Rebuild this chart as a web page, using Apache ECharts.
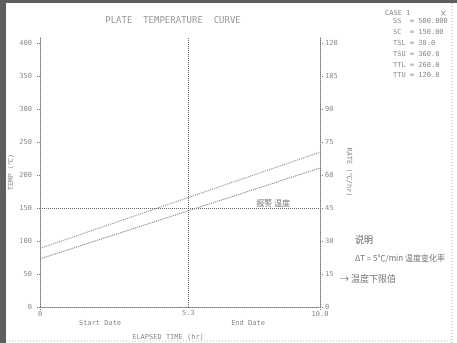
<!DOCTYPE html>
<html>
<head>
<meta charset="utf-8">
<script src="https://cdn.jsdelivr.net/npm/echarts@6/dist/echarts.min.js"></script>
<style>
  html, body { margin: 0; padding: 0; background: #fff; }
  #chart { width: 457px; height: 343px; }
</style>
</head>
<body>
<div id="chart"></div>
<script>
// values
const xValues = [0, 10]
const upperLine = [89, 235]
const lowerLine = [73, 211]
const thresholdValue = 150
const markX = 5.3
const leftTicks = { min: 0, max: 410, interval: 50 }
const rightTicks = { min: 0, max: 123, interval: 15 }
const caseLines = ['SS  = 500.000', 'SC  = 150.00', 'TSL = 38.0', 'TSU = 360.0', 'TTL = 260.0', 'TTU = 120.0']
const noteLines = ['说明', 'ΔT = 5℃/min 温度变化率', '→ 温度下限值']

const gray = '#8a8a8a'
const dotted = { type: 'dotted', color: '#777', width: 1 }

const chart = echarts.init(document.getElementById('chart'))

const graphics = [
    // scanner frame
    { type: 'rect', shape: { x: 0, y: 0, width: 6, height: 343 }, style: { fill: '#5e5e5e' } },
    { type: 'rect', shape: { x: 0, y: 0, width: 457, height: 3 }, style: { fill: '#5e5e5e' } },
    { type: 'line', shape: { x1: 452, y1: 3, x2: 452, y2: 343 }, style: { stroke: '#aaa', lineDash: [1, 2] } },
    { type: 'line', shape: { x1: 6, y1: 341, x2: 452, y2: 341 }, style: { stroke: '#bbb', lineDash: [1, 2] } },
    { type: 'text', x: 385, y: 10, style: { text: 'CASE 1', fill: gray, font: '7px "DejaVu Sans Mono"' } },
    { type: 'text', x: 440, y: 10, style: { text: '×', fill: gray, font: '8px "DejaVu Sans"' } },
    { type: 'text', x: 100, y: 323, style: { text: 'Start Date', fill: gray, font: '7px "DejaVu Sans Mono"', align: 'center', verticalAlign: 'middle' } },
    { type: 'text', x: 248, y: 323, style: { text: 'End Date', fill: gray, font: '7px "DejaVu Sans Mono"', align: 'center', verticalAlign: 'middle' } },
    { type: 'text', x: 168, y: 337, style: { text: 'ELAPSED TIME (hr)', fill: gray, font: '7px "DejaVu Sans Mono"', align: 'center', verticalAlign: 'middle' } }
]
caseLines.forEach((t, i) => {
    graphics.push({ type: 'text', x: 393, y: 18 + i * 10.8, style: { text: t, fill: gray, font: '7px "DejaVu Sans Mono"' } })
})
graphics.push({ type: 'text', x: 355, y: 240, style: { text: noteLines[0], fill: '#666', font: '9px "Noto Sans CJK SC"', verticalAlign: 'middle' } })
graphics.push({ type: 'text', x: 355, y: 258, style: { text: noteLines[1], fill: '#777', font: '8px "Noto Sans CJK SC"', verticalAlign: 'middle' } })
graphics.push({ type: 'text', x: 340, y: 279, style: { text: noteLines[2], fill: '#777', font: '9px "Noto Sans CJK SC"', verticalAlign: 'middle' } })

const option = {
    animation: false,
    backgroundColor: '#fff',
    textStyle: { fontFamily: 'DejaVu Sans Mono' },
    title: {
        text: 'PLATE  TEMPERATURE  CURVE',
        left: 168,
        textAlign: 'center',
        top: 11,
        textStyle: { fontSize: 9, fontWeight: 'normal', color: '#999', fontFamily: 'DejaVu Sans Mono' }
    },
    grid: { left: 40, right: 137, top: 37, bottom: 36 },
    xAxis: {
        type: 'value',
        min: 0,
        max: 10,
        interval: 10,
        axisLine: { lineStyle: dotted },
        axisTick: { show: true, length: 3, lineStyle: dotted },
        splitLine: { show: false },
        axisLabel: { color: gray, fontSize: 7, margin: 4, formatter: v => v === 0 ? '0' : '10.0' }
    },
    yAxis: [
        {
            type: 'value',
            ...leftTicks,
            name: 'TEMP (℃)',
            nameLocation: 'middle',
            nameRotate: 90,
            nameGap: 25,
            nameMoveOverlap: false,
            nameTextStyle: { color: gray, fontSize: 7 },
            axisLine: { show: true, lineStyle: dotted },
            axisTick: { show: true, length: 3, lineStyle: dotted },
            splitLine: { show: false },
            axisLabel: { color: gray, fontSize: 7, margin: 8, showMaxLabel: false }
        },
        {
            type: 'value',
            ...rightTicks,
            position: 'right',
            name: 'RATE (℃/hr)',
            nameLocation: 'middle',
            nameRotate: -90,
            nameGap: 25,
            nameMoveOverlap: false,
            nameTextStyle: { color: gray, fontSize: 7 },
            axisLine: { show: true, lineStyle: dotted },
            axisTick: { show: true, length: 3, lineStyle: dotted },
            splitLine: { show: false },
            axisLabel: { color: gray, fontSize: 7, margin: 5, showMaxLabel: false }
        }
    ],
    series: [
        {
            type: 'line',
            data: xValues.map((x, i) => [x, upperLine[i]]),
            symbol: 'none',
            lineStyle: { type: 'dotted', color: '#777', width: 1 },
            markLine: {
                silent: true,
                symbol: 'none',
                lineStyle: { type: 'dotted', color: '#666', width: 1 },
                data: [
                    { yAxis: thresholdValue, label: { show: true, position: 'insideEndTop', formatter: '报警 温度', color: '#777', fontSize: 8, fontFamily: 'Noto Sans CJK SC', distance: [30, 1] } },
                    { xAxis: markX, label: { show: true, position: 'start', formatter: String(markX), color: gray, fontSize: 7, distance: 3 } }
                ]
            }
        },
        {
            type: 'line',
            data: xValues.map((x, i) => [x, lowerLine[i]]),
            symbol: 'none',
            lineStyle: { type: 'dotted', color: '#666', width: 1 }
        }
    ],
    graphic: graphics
}
chart.setOption(option)
</script>
</body>
</html>
